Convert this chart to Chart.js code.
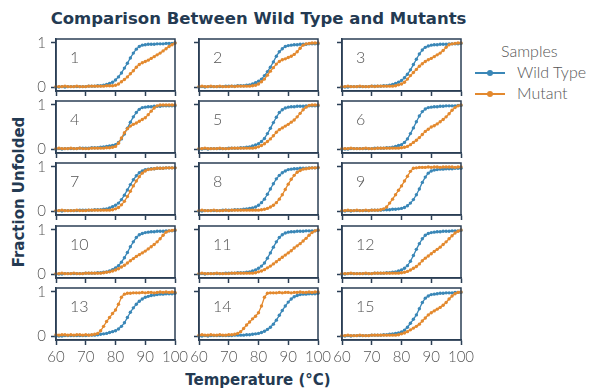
<!DOCTYPE html>
<html>
<head>
<meta charset="utf-8">
<script src="https://cdn.jsdelivr.net/npm/chart.js@4.4.1/dist/chart.umd.min.js"></script>
<style>
  body { margin: 0; background: #fff; }
  #figure { position: relative; width: 590px; height: 389px; overflow: hidden; font-family: 'Lato', sans-serif; color: #243a52; }
  #figure canvas { position: absolute; }
  .title { position: absolute; left: 0; width: 517px; top: 9px; text-align: center; font-family: 'DejaVu Sans', sans-serif; font-weight: 700; font-size: 16.5px; white-space: nowrap; }
  .ylab { position: absolute; left: 19px; top: 192px; transform: translate(-50%, -50%) rotate(-90deg); font-family: 'DejaVu Sans', sans-serif; font-weight: 700; font-size: 15px; white-space: nowrap; }
  .xlab { position: absolute; left: 258px; top: 380px; transform: translate(-50%, -50%); font-family: 'DejaVu Sans', sans-serif; font-weight: 700; font-size: 15px; white-space: nowrap; }
  .panel-num { position: absolute; font-size: 16px; font-weight: 300; color: #555; line-height: 1; }
  .legend { position: absolute; left: 475px; top: 41px; font-size: 16px; font-weight: 300; color: #555; }
  .legend .head { margin-left: 26px; height: 21px; }
  .legend .item { position: relative; height: 21px; padding-left: 42px; white-space: nowrap; }
  .legend .swatch { position: absolute; left: 0; top: 10px; width: 30px; height: 1.5px; }
  .legend .dot { position: absolute; left: 12px; top: -2.5px; width: 6px; height: 6px; border-radius: 50%; }
</style>
</head>
<body>
<div id="figure">
  <div class="title">Comparison Between Wild Type and Mutants</div>
  <div class="ylab">Fraction Unfolded</div>
  <div class="xlab">Temperature (°C)</div>
  <div class="legend" id="legend"></div>
</div>
<script>
const temperatures = [60, 61, 62, 63, 64, 65, 66, 67, 68, 69, 70, 71, 72, 73, 74, 75, 76, 77, 78, 79,
  80, 81, 82, 83, 84, 85, 86, 87, 88, 89, 90, 91, 92, 93, 94, 95, 96, 97, 98, 99, 100];

const sampleNames = ['1', '2', '3', '4', '5', '6', '7', '8', '9', '10', '11', '12', '13', '14', '15'];
const seriesNames = ['Wild Type', 'Mutant'];
const xTicks = [60, 70, 80, 90, 100];
const yTicks = [0, 1];

// fraction unfolded per sample, one value per degree from 60 to 100
const wildType = [
  [0.00,0.00,0.01,0.00,0.01,0.01,0.01,0.01,0.01,0.01, 0.01,0.02,0.02,0.02,0.03,0.03,0.04,0.06,0.08,0.11, 0.16,0.23,0.32,0.43,0.54,0.66,0.77,0.86,0.92,0.95, 0.96,0.97,0.97,0.97,0.98,0.98,0.98,0.99,0.99,0.99, 1.00],
  [0.00,0.01,0.00,0.01,0.01,0.01,0.01,0.01,0.01,0.02, 0.02,0.02,0.02,0.03,0.03,0.03,0.04,0.05,0.07,0.10, 0.13,0.18,0.26,0.35,0.45,0.57,0.70,0.80,0.87,0.92, 0.94,0.95,0.96,0.96,0.97,0.97,0.97,0.98,0.98,0.98, 0.98],
  [0.00,0.00,0.00,0.01,0.01,0.01,0.01,0.01,0.01,0.01, 0.02,0.02,0.02,0.02,0.03,0.03,0.04,0.06,0.08,0.11, 0.15,0.21,0.29,0.39,0.51,0.63,0.75,0.84,0.90,0.93, 0.95,0.96,0.96,0.97,0.97,0.97,0.98,0.98,0.98,0.98, 0.99],
  [0.00,0.01,0.00,0.01,0.01,0.01,0.01,0.01,0.02,0.02, 0.02,0.02,0.03,0.03,0.03,0.04,0.05,0.06,0.07,0.08, 0.10,0.15,0.23,0.34,0.47,0.61,0.73,0.83,0.90,0.94, 0.95,0.96,0.96,0.97,0.97,0.97,0.98,0.98,0.98,0.98, 0.98],
  [0.00,0.00,0.01,0.00,0.01,0.01,0.01,0.01,0.01,0.01, 0.02,0.02,0.02,0.02,0.03,0.03,0.04,0.05,0.07,0.09, 0.12,0.17,0.24,0.35,0.47,0.60,0.72,0.83,0.89,0.93, 0.95,0.96,0.96,0.97,0.97,0.97,0.98,0.98,0.98,0.98, 0.98],
  [0.00,0.00,0.00,0.01,0.01,0.01,0.01,0.01,0.01,0.01, 0.01,0.02,0.02,0.02,0.02,0.03,0.03,0.04,0.06,0.08, 0.10,0.15,0.23,0.35,0.48,0.62,0.75,0.85,0.91,0.94, 0.95,0.96,0.96,0.97,0.97,0.98,0.98,0.98,0.98,0.99, 0.99],
  [0.00,0.01,0.00,0.01,0.01,0.01,0.01,0.01,0.02,0.02, 0.02,0.02,0.02,0.03,0.03,0.03,0.04,0.05,0.07,0.10, 0.13,0.18,0.26,0.36,0.48,0.60,0.71,0.80,0.87,0.91, 0.94,0.95,0.96,0.96,0.97,0.97,0.97,0.98,0.98,0.98, 0.98],
  [0.00,0.00,0.01,0.01,0.01,0.01,0.01,0.01,0.02,0.02, 0.02,0.02,0.03,0.03,0.03,0.04,0.05,0.06,0.07,0.09, 0.13,0.19,0.27,0.38,0.50,0.62,0.73,0.81,0.87,0.91, 0.94,0.95,0.96,0.96,0.97,0.97,0.97,0.98,0.98,0.98, 0.98],
  [0.00,0.00,0.01,0.00,0.01,0.01,0.01,0.01,0.01,0.01, 0.02,0.02,0.02,0.02,0.03,0.03,0.03,0.04,0.04,0.05, 0.06,0.08,0.12,0.18,0.26,0.37,0.50,0.65,0.77,0.86, 0.91,0.93,0.94,0.95,0.95,0.96,0.96,0.96,0.97,0.97, 0.97],
  [0.00,0.00,0.00,0.01,0.01,0.01,0.01,0.01,0.01,0.01, 0.02,0.02,0.02,0.02,0.03,0.03,0.04,0.05,0.07,0.10, 0.14,0.19,0.27,0.37,0.49,0.62,0.73,0.83,0.89,0.92, 0.94,0.95,0.96,0.96,0.97,0.97,0.97,0.98,0.98,0.98, 0.99],
  [0.00,0.01,0.00,0.01,0.01,0.01,0.01,0.01,0.01,0.02, 0.02,0.02,0.02,0.03,0.03,0.03,0.04,0.05,0.07,0.09, 0.13,0.18,0.25,0.36,0.48,0.61,0.73,0.83,0.89,0.93, 0.95,0.96,0.96,0.97,0.97,0.97,0.98,0.98,0.98,0.98, 0.99],
  [0.00,0.00,0.01,0.01,0.01,0.01,0.01,0.01,0.01,0.01, 0.01,0.02,0.02,0.02,0.02,0.03,0.03,0.04,0.05,0.07, 0.09,0.13,0.19,0.29,0.42,0.56,0.69,0.80,0.88,0.92, 0.94,0.95,0.96,0.96,0.97,0.97,0.97,0.98,0.98,0.98, 0.99],
  [0.00,0.00,0.00,0.01,0.01,0.01,0.01,0.01,0.01,0.01, 0.01,0.02,0.02,0.02,0.03,0.04,0.05,0.06,0.08,0.10, 0.12,0.16,0.22,0.30,0.42,0.54,0.64,0.72,0.79,0.84, 0.88,0.90,0.92,0.93,0.94,0.95,0.95,0.96,0.96,0.96, 0.97],
  [0.00,0.00,0.01,0.00,0.01,0.01,0.01,0.01,0.01,0.01, 0.01,0.01,0.02,0.02,0.02,0.02,0.03,0.03,0.04,0.05, 0.06,0.08,0.11,0.15,0.20,0.27,0.36,0.47,0.58,0.68, 0.77,0.84,0.89,0.92,0.94,0.95,0.95,0.96,0.96,0.96, 0.97],
  [0.00,0.00,0.01,0.00,0.01,0.01,0.01,0.01,0.01,0.01, 0.02,0.02,0.02,0.02,0.03,0.03,0.04,0.05,0.06,0.07, 0.09,0.13,0.20,0.29,0.38,0.48,0.62,0.76,0.86,0.91, 0.94,0.95,0.96,0.97,0.97,0.98,0.98,0.98,0.99,0.99, 0.99]
];

const mutant = [
  [0.01,0.01,0.01,0.02,0.01,0.01,0.01,0.02,0.01,0.01, 0.01,0.02,0.02,0.02,0.02,0.02,0.02,0.03,0.03,0.03, 0.04,0.07,0.12,0.17,0.23,0.30,0.37,0.45,0.51,0.55, 0.58,0.61,0.65,0.69,0.73,0.77,0.82,0.87,0.92,0.96, 1.00],
  [0.01,0.02,0.01,0.01,0.02,0.01,0.01,0.02,0.01,0.01, 0.01,0.02,0.01,0.02,0.02,0.02,0.02,0.02,0.03,0.04, 0.07,0.12,0.18,0.27,0.36,0.44,0.52,0.58,0.62,0.64, 0.67,0.70,0.74,0.80,0.88,0.95,0.98,0.99,1.00,1.00, 1.00],
  [0.01,0.01,0.02,0.01,0.01,0.01,0.02,0.01,0.01,0.01, 0.02,0.01,0.02,0.02,0.02,0.02,0.02,0.02,0.03,0.05, 0.07,0.11,0.18,0.26,0.33,0.40,0.47,0.53,0.58,0.62, 0.65,0.69,0.73,0.77,0.83,0.90,0.96,0.98,0.99,1.00, 1.00],
  [0.01,0.02,0.01,0.01,0.01,0.02,0.01,0.01,0.02,0.01, 0.01,0.01,0.02,0.02,0.02,0.02,0.02,0.03,0.03,0.04, 0.06,0.13,0.25,0.37,0.46,0.52,0.56,0.59,0.63,0.67, 0.71,0.78,0.86,0.93,0.98,1.00,1.00,1.00,1.00,1.00, 1.00],
  [0.01,0.01,0.02,0.01,0.01,0.01,0.01,0.02,0.01,0.01, 0.01,0.02,0.02,0.02,0.02,0.02,0.02,0.02,0.02,0.03, 0.05,0.08,0.12,0.17,0.23,0.30,0.38,0.44,0.48,0.52, 0.56,0.61,0.66,0.73,0.81,0.89,0.95,0.99,1.00,1.00, 1.00],
  [0.01,0.01,0.01,0.02,0.01,0.01,0.01,0.01,0.02,0.01, 0.01,0.01,0.02,0.02,0.02,0.02,0.02,0.02,0.02,0.02, 0.03,0.04,0.06,0.10,0.15,0.20,0.26,0.33,0.40,0.45, 0.50,0.53,0.57,0.62,0.67,0.73,0.80,0.88,0.94,0.98, 1.00],
  [0.01,0.01,0.02,0.01,0.01,0.01,0.01,0.02,0.01,0.01, 0.01,0.02,0.02,0.02,0.02,0.02,0.02,0.02,0.02,0.03, 0.05,0.08,0.14,0.22,0.33,0.45,0.57,0.68,0.78,0.86, 0.91,0.94,0.95,0.96,0.97,0.97,0.97,0.98,0.98,0.98, 0.98],
  [0.01,0.02,0.01,0.01,0.01,0.02,0.01,0.01,0.01,0.02, 0.01,0.02,0.02,0.02,0.02,0.02,0.02,0.02,0.02,0.02, 0.02,0.03,0.04,0.06,0.09,0.13,0.19,0.27,0.37,0.49, 0.61,0.72,0.81,0.88,0.92,0.95,0.96,0.97,0.98,0.98, 0.99],
  [0.01,0.01,0.02,0.01,0.01,0.02,0.01,0.01,0.02,0.01, 0.02,0.02,0.02,0.03,0.05,0.09,0.18,0.27,0.37,0.47, 0.57,0.68,0.79,0.90,0.97,0.98,0.99,0.99,0.99,1.00, 0.99,1.00,1.00,0.99,1.00,1.00,1.00,1.00,0.99,1.00, 1.00],
  [0.01,0.01,0.02,0.01,0.01,0.01,0.02,0.01,0.01,0.01, 0.02,0.02,0.02,0.02,0.02,0.02,0.03,0.04,0.05,0.07, 0.09,0.12,0.16,0.20,0.25,0.30,0.35,0.40,0.44,0.48, 0.52,0.57,0.62,0.67,0.73,0.80,0.88,0.95,0.98,0.99, 1.00],
  [0.01,0.02,0.01,0.01,0.01,0.01,0.02,0.01,0.01,0.01, 0.01,0.02,0.02,0.02,0.02,0.02,0.02,0.02,0.02,0.03, 0.05,0.07,0.10,0.14,0.18,0.23,0.28,0.33,0.38,0.43, 0.48,0.53,0.59,0.64,0.69,0.75,0.81,0.88,0.94,0.98, 1.00],
  [0.01,0.01,0.01,0.02,0.01,0.01,0.01,0.01,0.02,0.01, 0.01,0.02,0.02,0.02,0.02,0.02,0.02,0.02,0.02,0.02, 0.03,0.04,0.06,0.09,0.13,0.17,0.23,0.30,0.36,0.41, 0.46,0.51,0.56,0.61,0.67,0.73,0.80,0.87,0.93,0.97, 1.00],
  [0.03,0.02,0.03,0.03,0.02,0.03,0.02,0.03,0.03,0.02, 0.03,0.02,0.03,0.04,0.06,0.12,0.22,0.33,0.42,0.51, 0.59,0.72,0.88,0.95,0.97,0.97,0.98,0.98,0.98,0.99, 0.98,0.99,0.99,0.98,0.99,1.00,0.99,1.00,0.99,1.00, 0.99],
  [0.02,0.03,0.02,0.02,0.03,0.02,0.02,0.03,0.02,0.02, 0.03,0.03,0.04,0.06,0.10,0.17,0.25,0.32,0.39,0.45, 0.53,0.68,0.88,0.97,0.98,0.98,0.98,0.99,0.98,0.99, 0.99,0.98,0.99,0.99,1.00,0.99,0.99,1.00,0.99,1.00, 1.00],
  [0.01,0.01,0.02,0.01,0.01,0.01,0.02,0.01,0.01,0.01, 0.02,0.02,0.02,0.02,0.02,0.02,0.02,0.02,0.02,0.03, 0.05,0.07,0.10,0.14,0.18,0.22,0.27,0.34,0.41,0.48, 0.53,0.57,0.61,0.65,0.70,0.76,0.84,0.91,0.96,0.99, 1.00]
];

const seriesColors = ['#3a87b7', '#e3892e'];
const axisColor = '#2b3f55';
const tickColor = '#555555';

// grid of small panels
const nCols = 3;
const colLefts = [56, 199, 342];
const rowTops = [39, 101, 163, 226, 288];
const panelW = 119;
const panelH = 52;
const padL = 34, padR = 18, padT = 14, padB = 14, padBottom = 34;

const figure = document.getElementById('figure');

// full box around each panel
const framePlugin = {
  id: 'frame',
  afterDraw(chart) {
    const a = chart.chartArea;
    const ctx = chart.ctx;
    ctx.save();
    ctx.strokeStyle = axisColor;
    ctx.lineWidth = 1.5;
    ctx.strokeRect(a.left, a.top, a.right - a.left, a.bottom - a.top);
    ctx.restore();
  }
};

function makePanel(idx) {
  const row = Math.floor(idx / nCols);
  const col = idx % nCols;
  const isBottom = row === rowTops.length - 1;
  const isLeft = col === 0;
  const xh = isBottom ? padBottom : padB;

  const canvas = document.createElement('canvas');
  canvas.width = panelW + padL + padR;
  canvas.height = panelH + padT + xh;
  canvas.style.left = (colLefts[col] - padL) + 'px';
  canvas.style.top = (rowTops[row] - padT) + 'px';
  figure.appendChild(canvas);

  const num = document.createElement('div');
  num.className = 'panel-num';
  num.textContent = sampleNames[idx];
  num.style.left = (colLefts[col] + 14) + 'px';
  num.style.top = (rowTops[row] + 10) + 'px';
  figure.appendChild(num);

  const series = [wildType[idx], mutant[idx]];
  const datasets = series.map((vals, s) => ({
    label: seriesNames[s],
    data: temperatures.map((t, i) => ({ x: t, y: vals[i] })),
    borderColor: seriesColors[s],
    backgroundColor: seriesColors[s],
    borderWidth: 1.3,
    pointRadius: 1.7,
    pointBorderWidth: 0,
    pointBackgroundColor: seriesColors[s],
    tension: 0,
    clip: 3,
    order: s === 0 ? 1 : 0
  }));

  new Chart(canvas.getContext('2d'), {
    type: 'line',
    data: { datasets: datasets },
    options: {
      responsive: false,
      animation: false,
      events: [],
      layout: { padding: { left: 0, right: padR, top: padT, bottom: 0 } },
      plugins: { legend: { display: false }, tooltip: { enabled: false } },
      scales: {
        x: {
          type: 'linear',
          min: 60,
          max: 100,
          afterFit(scale) { scale.height = xh; },
          afterBuildTicks(scale) { scale.ticks = xTicks.map(v => ({ value: v })); },
          ticks: {
            display: isBottom,
            color: tickColor,
            padding: 3,
            maxRotation: 0,
            autoSkip: false,
            font: { family: 'Lato', size: 15, weight: '300' }
          },
          grid: { drawOnChartArea: false, drawTicks: true, tickLength: 5, tickWidth: 1.5, tickColor: axisColor },
          border: { display: true, color: axisColor, width: 1.5 }
        },
        y: {
          min: -0.09,
          max: 1.09,
          afterFit(scale) { scale.width = padL; },
          afterBuildTicks(scale) { scale.ticks = yTicks.map(v => ({ value: v })); },
          ticks: {
            display: isLeft,
            color: tickColor,
            padding: 5,
            font: { family: 'Lato', size: 15, weight: '300' }
          },
          grid: { drawOnChartArea: false, drawTicks: true, tickLength: 5, tickWidth: 1.5, tickColor: axisColor },
          border: { display: true, color: axisColor, width: 1.5 }
        }
      }
    },
    plugins: [framePlugin]
  });
}

for (let i = 0; i < sampleNames.length; i++) {
  makePanel(i);
}

// legend
const legend = document.getElementById('legend');
const head = document.createElement('div');
head.className = 'head';
head.textContent = 'Samples';
legend.appendChild(head);
seriesNames.forEach((name, s) => {
  const item = document.createElement('div');
  item.className = 'item';
  const sw = document.createElement('span');
  sw.className = 'swatch';
  sw.style.background = seriesColors[s];
  const dot = document.createElement('span');
  dot.className = 'dot';
  dot.style.background = seriesColors[s];
  sw.appendChild(dot);
  item.appendChild(sw);
  item.appendChild(document.createTextNode(name));
  legend.appendChild(item);
});
</script>
</body>
</html>
